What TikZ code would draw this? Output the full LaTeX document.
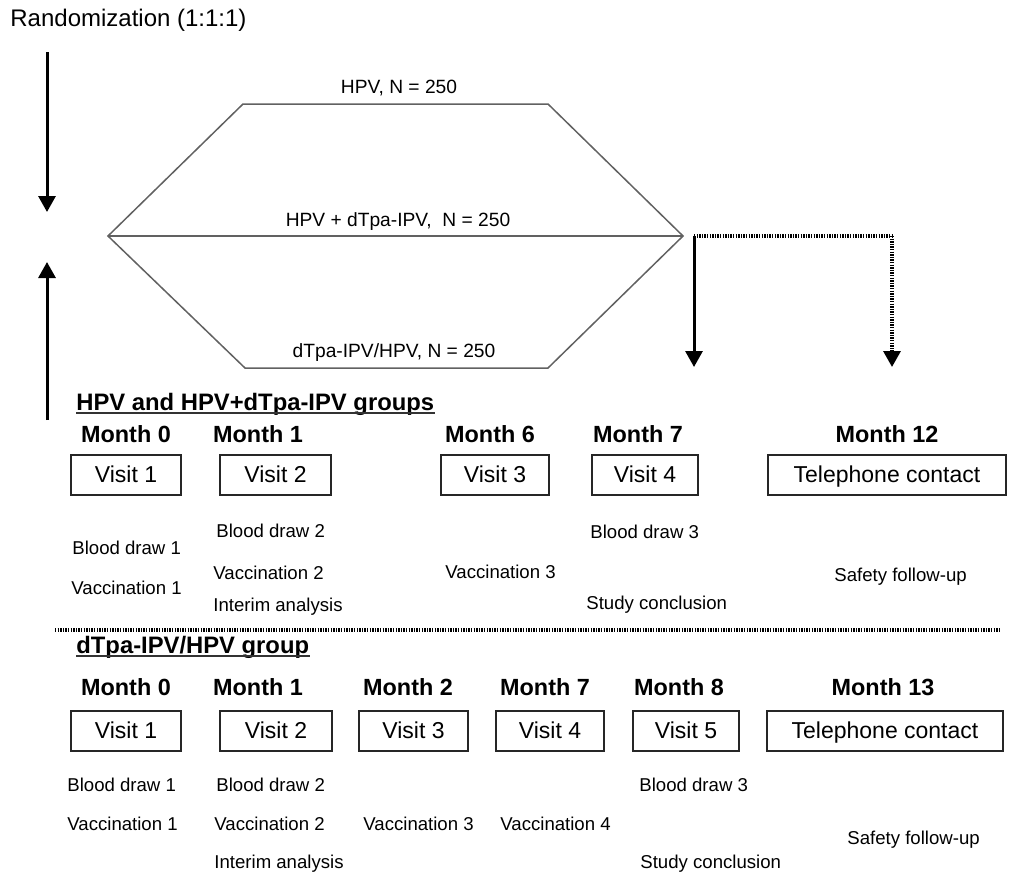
\documentclass[tikz,border=0pt]{standalone}
\usepackage{fontspec}
\setmainfont{Liberation Sans}
\usetikzlibrary{arrows.meta}
\begin{document}
\begin{tikzpicture}[x=0.5pt,y=-0.5pt,
  hexline/.style={draw=black!62, line width=0.75pt, line join=miter},
  arr/.style={line width=1.5pt, -{Triangle[length=8pt,width=8.5pt]}},
  dotline/.style={line width=1.6pt, dash pattern=on 0.7pt off 0.6pt},
  visitbox/.style={draw=black!85, line width=0.8pt, inner sep=0pt, minimum height=20pt, text height=9.8pt, text depth=2pt, font=\fontsize{11.5}{13}\selectfont},
  month/.style={font=\bfseries\fontsize{11.7}{14}\selectfont, inner sep=0pt},
  small/.style={font=\fontsize{9.3}{11}\selectfont, inner sep=0pt, anchor=west},
  hexlab/.style={font=\fontsize{9.6}{11}\selectfont, inner sep=0pt},
  heading/.style={font=\bfseries\fontsize{11.9}{14}\selectfont, inner sep=0pt, anchor=base west},
  uline/.style={line width=0.8pt, draw=black!80}]
\useasboundingbox (0,0) rectangle (1010,884);

% title
\node[anchor=west, inner sep=0pt, font=\fontsize{12}{14}\selectfont] (rand) at (10,20) {Randomization (1:1:1)};

% left arrows
\coordinate (dtop) at (47,52);
\coordinate (dtip) at (47,212);
\coordinate (ubot) at (47,420);
\coordinate (utip) at (47,262);
\draw[arr] (dtop) -- (dtip);
\draw[arr] (ubot) -- (utip);

% hexagon
\coordinate (L) at (108,236);
\coordinate (TL) at (243,104);
\coordinate (TR) at (548,104);
\coordinate (R) at (683,236);
\coordinate (BR) at (548,368);
\coordinate (BL) at (245,368);
\draw[hexline] (L) -- (TL) -- (TR) -- (R) -- (BR) -- (BL) -- cycle;
\draw[hexline] (L) -- (R);
\node[hexlab] (g1) at (399,88) {HPV, N = 250};
\node[hexlab] (g2) at (398,222) {HPV + dTpa-IPV,\ \ N = 250};
\node[hexlab] (g3) at (394,353) {dTpa-IPV/HPV, N = 250};

% right arrows
\coordinate (S) at (694,236);
\coordinate (D) at (892,236);
\coordinate (S2) at (694,367);
\coordinate (D2) at (892,367);
\draw[arr] (S) -- (S2);
\draw[dotline] (S) -- (D);
\draw[dotline, -{Triangle[length=8pt,width=8.5pt]}] (D) -- (D2);

% ---- group 1 ----
\node[heading] (h1) at (76,410) {HPV and HPV+dTpa-IPV groups};
\draw[uline] ([yshift=-1.6pt]h1.base west) -- ([yshift=-1.6pt]h1.base east);

\node[month] (m10) at (126,434) {Month 0};
\node[month] (m11) at (258,434) {Month 1};
\node[month] (m16) at (490,434) {Month 6};
\node[month] (m17) at (638,434) {Month 7};
\node[month] (m112) at (887,434) {Month 12};

\node[visitbox, minimum width=55pt] (v11) at (126,475) {Visit 1};
\node[visitbox, minimum width=55.5pt] (v12) at (275.5,475) {Visit 2};
\node[visitbox, minimum width=54pt] (v13) at (495,475) {Visit 3};
\node[visitbox, minimum width=53pt] (v14) at (645,475) {Visit 4};
\node[visitbox, minimum width=119pt] (t1) at (887,475) {Telephone contact};

\node[small] (a1) at (72,548) {Blood draw 1};
\node[small] (a2) at (71,588) {Vaccination 1};
\node[small] (a3) at (216,531) {Blood draw 2};
\node[small] (a4) at (213,573) {Vaccination 2};
\node[small] (a5) at (213,607) {Interim analysis};
\node[small] (a6) at (445,572) {Vaccination 3};
\node[small] (a7) at (590,532) {Blood draw 3};
\node[small] (a8) at (586,605) {Study conclusion};
\node[small] (a9) at (834,577) {Safety follow-up};

% separator
\coordinate (sepL) at (55,630);
\coordinate (sepR) at (1000,630);
\draw[dotline] (sepL) -- (sepR);

% ---- group 2 ----
\node[heading] (h2) at (76,653) {dTpa-IPV/HPV group};
\draw[uline] ([yshift=-1.6pt]h2.base west) -- ([yshift=-1.6pt]h2.base east);

\node[month] (m20) at (126,687) {Month 0};
\node[month] (m21) at (258,687) {Month 1};
\node[month] (m22) at (408,687) {Month 2};
\node[month] (m27) at (545,687) {Month 7};
\node[month] (m28) at (679,687) {Month 8};
\node[month] (m213) at (883,687) {Month 13};

\node[visitbox, minimum width=55pt] (v21) at (126,731) {Visit 1};
\node[visitbox, minimum width=56pt] (v22) at (276,731) {Visit 2};
\node[visitbox, minimum width=54.5pt] (v23) at (413.5,731) {Visit 3};
\node[visitbox, minimum width=54pt] (v24) at (550,731) {Visit 4};
\node[visitbox, minimum width=53pt] (v25) at (686,731) {Visit 5};
\node[visitbox, minimum width=118pt] (t2) at (885,731) {Telephone contact};

\node[small] (b1) at (67,785) {Blood draw 1};
\node[small] (b2) at (67,824) {Vaccination 1};
\node[small] (b3) at (216,785) {Blood draw 2};
\node[small] (b4) at (214,824) {Vaccination 2};
\node[small] (b5) at (214,864) {Interim analysis};
\node[small] (b6) at (363,824) {Vaccination 3};
\node[small] (b7) at (500,824) {Vaccination 4};
\node[small] (b8) at (639,785) {Blood draw 3};
\node[small] (b9) at (640,864) {Study conclusion};
\node[small] (b10) at (847,840) {Safety follow-up};
\end{tikzpicture}
\end{document}
